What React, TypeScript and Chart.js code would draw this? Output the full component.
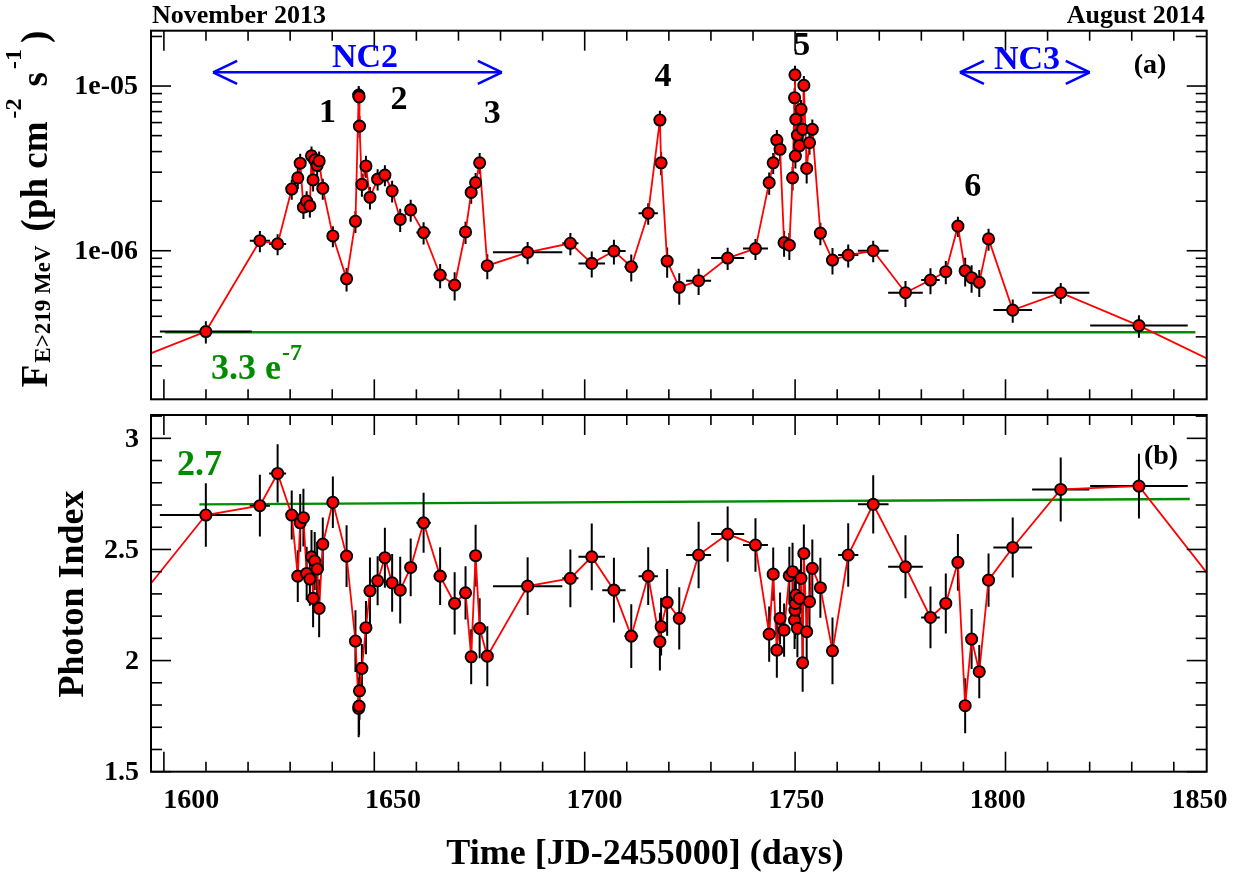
import React, { useEffect, useRef } from "react";
import { Chart, registerables } from "chart.js";
Chart.register(...registerables);

// ---------------- DATA ----------------
const days = [
  1603.6, 1617.0, 1621.4, 1624.9, 1626.4, 1627.0, 1627.8, 1628.6, 1629.4, 1629.8,
  1630.2, 1630.6, 1631.2, 1631.7, 1632.6, 1635.1, 1638.5, 1640.7, 1641.5, 1641.6,
  1641.7, 1642.3, 1643.3, 1644.3, 1646.2, 1648.0, 1649.8, 1651.8, 1654.4, 1657.6,
  1661.7, 1665.3, 1668.0, 1669.4, 1670.5, 1671.5, 1673.4, 1683.4, 1694.0, 1699.3,
  1704.8, 1709.1, 1713.3, 1716.2, 1716.5, 1718.0, 1721.0, 1725.8, 1733.0, 1739.9,
  1743.3, 1744.3, 1745.2, 1746.0, 1747.0, 1748.3, 1749.1, 1749.6, 1749.7, 1749.8,
  1749.9, 1750.3, 1750.8, 1751.2, 1751.6, 1751.9, 1752.6, 1753.3, 1754.0, 1756.0,
  1759.0, 1762.9, 1769.1, 1777.1, 1783.3, 1787.1, 1790.1, 1791.9, 1793.5, 1795.4,
  1797.7, 1803.7, 1815.6, 1835.0,
];
const dayErr = [
  11.4, 2.5, 2.1, 0.8, 0.5, 0.5, 0.5, 0.5, 0.5, 0.5,
  0.5, 0.5, 0.5, 0.5, 0.5, 1.4, 0.8, 0.5, 0.3, 0.3,
  0.3, 0.3, 0.5, 0.5, 0.8, 0.8, 0.8, 0.8, 1.5, 1.8,
  1.6, 1.5, 0.5, 0.5, 0.5, 0.5, 1.0, 8.6, 2.0, 3.3,
  2.9, 1.7, 2.4, 0.5, 0.5, 0.8, 1.0, 3.1, 4.1, 3.1,
  0.5, 0.5, 0.5, 0.5, 0.5, 0.3, 0.3, 0.2, 0.2, 0.2,
  0.2, 0.2, 0.2, 0.2, 0.2, 0.2, 0.3, 0.3, 0.3, 0.5,
  0.8, 2.5, 3.8, 4.3, 2.3, 1.5, 0.8, 0.8, 0.8, 0.8,
  0.8, 4.8, 7.1, 12.1,
];
const flux = [
  3.23e-7, 1.15e-6, 1.10e-6, 2.37e-6, 2.77e-6, 3.40e-6, 1.84e-6, 2.00e-6, 1.87e-6, 3.77e-6,
  2.69e-6, 3.56e-6, 3.30e-6, 3.51e-6, 2.39e-6, 1.23e-6, 6.76e-7, 1.51e-6, 8.81e-6, 8.60e-6,
  5.71e-6, 2.53e-6, 3.27e-6, 2.11e-6, 2.72e-6, 2.88e-6, 2.31e-6, 1.55e-6, 1.77e-6, 1.29e-6,
  7.12e-7, 6.19e-7, 1.30e-6, 2.26e-6, 2.59e-6, 3.42e-6, 8.11e-7, 9.78e-7, 1.11e-6, 8.38e-7,
  9.96e-7, 8.00e-7, 1.69e-6, 6.22e-6, 3.42e-6, 8.66e-7, 6.00e-7, 6.58e-7, 9.03e-7, 1.03e-6,
  2.59e-6, 3.42e-6, 4.70e-6, 4.13e-6, 1.12e-6, 1.08e-6, 2.77e-6, 8.49e-6, 1.17e-5, 3.76e-6,
  6.28e-6, 5.04e-6, 4.34e-6, 7.22e-6, 5.46e-6, 1.01e-5, 3.16e-6, 4.53e-6, 5.46e-6, 1.28e-6,
  8.78e-7, 9.41e-7, 1.00e-6, 5.56e-7, 6.64e-7, 7.46e-7, 1.41e-6, 7.56e-7, 6.86e-7, 6.43e-7,
  1.18e-6, 4.36e-7, 5.56e-7, 3.51e-7,
];
const fluxErr = [
  0.5e-7, 0.17e-6, 0.16e-6, 0.33e-6, 0.4e-6, 0.48e-6, 0.28e-6, 0.3e-6, 0.28e-6, 0.52e-6,
  0.4e-6, 0.5e-6, 0.47e-6, 0.5e-6, 0.35e-6, 0.18e-6, 1.1e-7, 0.23e-6, 1.2e-6, 1.2e-6,
  0.85e-6, 0.4e-6, 0.5e-6, 0.33e-6, 0.4e-6, 0.42e-6, 0.35e-6, 0.25e-6, 0.27e-6, 0.2e-6,
  1.2e-7, 1.2e-7, 0.2e-6, 0.33e-6, 0.38e-6, 0.5e-6, 1.4e-7, 1.5e-7, 0.17e-6, 1.5e-7,
  1.7e-7, 1.5e-7, 0.25e-6, 0.85e-6, 0.55e-6, 1.8e-7, 1.3e-7, 1.2e-7, 1.4e-7, 0.15e-6,
  0.4e-6, 0.5e-6, 0.7e-6, 0.62e-6, 0.2e-6, 0.2e-6, 0.45e-6, 1.2e-6, 1.6e-6, 0.6e-6,
  0.9e-6, 0.8e-6, 0.7e-6, 1.0e-6, 0.8e-6, 1.4e-6, 0.6e-6, 0.7e-6, 0.8e-6, 0.2e-6,
  1.6e-7, 1.5e-7, 0.15e-6, 1.0e-7, 1.2e-7, 1.2e-7, 0.2e-6, 1.5e-7, 1.3e-7, 1.2e-7,
  0.18e-6, 0.7e-7, 0.8e-7, 0.55e-7,
];
const photonIndex = [
  2.655, 2.697, 2.842, 2.655, 2.380, 2.620, 2.643, 2.392, 2.367, 2.467,
  2.280, 2.448, 2.412, 2.235, 2.524, 2.712, 2.470, 2.088, 1.785, 1.795,
  1.864, 1.965, 2.148, 2.314, 2.359, 2.463, 2.350, 2.317, 2.419, 2.620,
  2.380, 2.257, 2.305, 2.017, 2.472, 2.145, 2.020, 2.335, 2.370, 2.467,
  2.317, 2.110, 2.380, 2.085, 2.153, 2.262, 2.190, 2.475, 2.569, 2.520,
  2.119, 2.389, 2.047, 2.190, 2.137, 2.382, 2.400, 2.182, 2.227, 2.257,
  2.295, 2.145, 2.280, 2.370, 1.990, 2.482, 2.130, 2.265, 2.415, 2.328,
  2.044, 2.475, 2.703, 2.422, 2.194, 2.257, 2.442, 1.797, 2.097, 1.950,
  2.362, 2.509, 2.770, 2.785,
];
const indexErr = [
  0.143, 0.139, 0.131, 0.11, 0.116, 0.13, 0.13, 0.12, 0.12, 0.12,
  0.13, 0.13, 0.12, 0.13, 0.12, 0.116, 0.139, 0.139, 0.13, 0.13,
  0.13, 0.11, 0.12, 0.15, 0.11, 0.135, 0.13, 0.15, 0.13, 0.135,
  0.13, 0.14, 0.12, 0.124, 0.139, 0.135, 0.135, 0.13, 0.13, 0.15,
  0.146, 0.143, 0.13, 0.13, 0.13, 0.15, 0.14, 0.15, 0.124, 0.12,
  0.124, 0.12, 0.124, 0.116, 0.12, 0.13, 0.13, 0.13, 0.13, 0.13,
  0.13, 0.13, 0.13, 0.13, 0.13, 0.13, 0.13, 0.13, 0.13, 0.135,
  0.15, 0.143, 0.131, 0.142, 0.139, 0.135, 0.128, 0.124, 0.135, 0.12,
  0.12, 0.135, 0.144, 0.146,
];
// neighbouring bins outside the visible window (only the connecting line shows)
const edgeDays = [1575, 1865];
const edgeFlux = [1.71e-7, 1.55e-7];
const edgeIndex = [2.008, 2.09];
// constant / linear fits
const fitFluxDays = [1593.5, 1849];
const fitFlux = [3.2e-7, 3.2e-7];
const fitIndexDays = [1602, 1847.6];
const fitIndex = [2.703, 2.727];
// axis ticks
const xTickValues = [1600, 1650, 1700, 1750, 1800, 1850];
const fluxTickValues = [1e-5, 1e-6];
const fluxTickLabels = ["1e-05", "1e-06"];
const indexTickValues = [1.5, 2, 2.5, 3];
const indexTickLabels = ["1.5", "2", "2.5", "3"];
const flareLabels = ["1", "2", "3", "4", "5", "6"];

// ---------------- STYLE ----------------
const SERIF = '"Liberation Serif", "Times New Roman", Times, serif';
const GREEN = "#008c00";
const BLUE = "#0000ff";
const X_MIN = 1590;
const X_MAX = 1851.8;

function font(size: number) {
  return `bold ${size}px ${SERIF}`;
}

function text(ctx: CanvasRenderingContext2D, s: string, x: number, y: number, size: number,
  color = "#000", align: CanvasTextAlign = "left", base: CanvasTextBaseline = "alphabetic") {
  ctx.save();
  ctx.font = font(size);
  ctx.fillStyle = color;
  ctx.textAlign = align;
  ctx.textBaseline = base;
  ctx.fillText(s, x, y);
  ctx.restore();
}

function seg(ctx: CanvasRenderingContext2D, x1: number, y1: number, x2: number, y2: number) {
  ctx.beginPath();
  ctx.moveTo(x1, y1);
  ctx.lineTo(x2, y2);
  ctx.stroke();
}

function frameAndTicks(ctx: CanvasRenderingContext2D, a: any, yTicks: { px: number; major: boolean }[]) {
  ctx.save();
  ctx.strokeStyle = "#000";
  ctx.lineWidth = 1.6;
  const w = a.right - a.left;
  for (let d = 1600; d <= 1840; d += 10) {
    const px = a.left + ((12.9 + (d - 1600) * 4.208) / 1055.7) * w;
    const L = d % 50 === 0 ? 20 : 10;
    seg(ctx, px, a.bottom, px, a.bottom - L);
    seg(ctx, px, a.top, px, a.top + L);
  }
  for (const t of yTicks) {
    const L = t.major ? 20 : 11;
    seg(ctx, a.left, t.px, a.left + L, t.px);
    seg(ctx, a.right, t.px, a.right - L, t.px);
  }
  ctx.lineWidth = 2;
  ctx.strokeRect(a.left, a.top, w, a.bottom - a.top);
  ctx.restore();
}

type Seg = { t: string; size: number; dy: number; gap?: number };
function richVertical(ctx: CanvasRenderingContext2D, segs: Seg[], x: number, yc: number) {
  ctx.save();
  ctx.translate(x, yc);
  ctx.rotate(-Math.PI / 2);
  ctx.fillStyle = "#000";
  ctx.textBaseline = "alphabetic";
  ctx.textAlign = "left";
  let total = 0;
  const ws = segs.map((s) => {
    ctx.font = font(s.size);
    const w = ctx.measureText(s.t).width;
    total += w + (s.gap || 0);
    return w;
  });
  let cx = -total / 2;
  segs.forEach((s, i) => {
    cx += s.gap || 0;
    ctx.font = font(s.size);
    ctx.fillText(s.t, cx, s.dy);
    cx += ws[i];
  });
  ctx.restore();
}

function arrow(ctx: CanvasRenderingContext2D, x1: number, x2: number, y: number) {
  ctx.save();
  ctx.strokeStyle = BLUE;
  ctx.lineWidth = 2.6;
  seg(ctx, x1, y, x2, y);
  seg(ctx, x1, y, x1 + 24, y - 11.5);
  seg(ctx, x1, y, x1 + 24, y + 11.5);
  seg(ctx, x2, y, x2 - 24, y - 11.5);
  seg(ctx, x2, y, x2 - 24, y + 11.5);
  ctx.restore();
}

function errorBarPlugin(values: number[], errs: number[]) {
  return {
    id: "errbars",
    afterDatasetDraw(chart: any, args: any) {
      if (args.index !== 0) return;
      const ctx = chart.ctx as CanvasRenderingContext2D;
      const a = chart.chartArea;
      const xs = chart.scales.x;
      const ys = chart.scales.y;
      ctx.save();
      ctx.beginPath();
      ctx.rect(a.left, a.top, a.right - a.left, a.bottom - a.top);
      ctx.clip();
      ctx.strokeStyle = "#000";
      ctx.lineWidth = 2;
      for (let i = 0; i < days.length; i++) {
        const px = xs.getPixelForValue(days[i]);
        const py = ys.getPixelForValue(values[i]);
        const x1 = xs.getPixelForValue(days[i] - dayErr[i]);
        const x2 = xs.getPixelForValue(days[i] + dayErr[i]);
        const y1 = ys.getPixelForValue(values[i] - errs[i]);
        const y2 = ys.getPixelForValue(values[i] + errs[i]);
        seg(ctx, x1, py, x2, py);
        seg(ctx, px, y1, px, y2);
      }
      ctx.restore();
    },
  };
}

const topDecor = {
  id: "topDecor",
  afterDraw(chart: any) {
    const ctx = chart.ctx as CanvasRenderingContext2D;
    const a = chart.chartArea;
    const xs = chart.scales.x;
    const ys = chart.scales.y;
    const ticks: { px: number; major: boolean }[] = [];
    for (let e = -7; e <= -5; e++) {
      for (let m = 1; m <= 9; m++) {
        const v = m * Math.pow(10, e);
        if (v >= ys.min && v <= ys.max) ticks.push({ px: ys.getPixelForValue(v), major: m === 1 });
      }
    }
    frameAndTicks(ctx, a, ticks);
    fluxTickValues.forEach((v, i) => {
      text(ctx, fluxTickLabels[i], a.left - 13, ys.getPixelForValue(v) + 1, 28, "#000", "right", "middle");
    });
    // y title
    richVertical(ctx, [
      { t: "F", size: 37, dy: 0 },
      { t: "E>219 MeV", size: 23, dy: 3, gap: 2 },
      { t: "(ph cm", size: 37, dy: 0, gap: 14 },
      { t: "-2", size: 24, dy: -26, gap: 3 },
      { t: "s", size: 37, dy: 0, gap: 12 },
      { t: "-1", size: 24, dy: -26, gap: 3 },
      { t: ")", size: 37, dy: 0, gap: 6 },
    ], 47, 209);
    // dates
    text(ctx, "November 2013", a.left + 1, 23, 26);
    text(ctx, "August 2014", a.right - 2, 23, 26, "#000", "right");
    // NC arrows
    const yArr = 72.3;
    arrow(ctx, xs.getPixelForValue(1605.4), xs.getPixelForValue(1677.0), yArr);
    arrow(ctx, xs.getPixelForValue(1790.6), xs.getPixelForValue(1822.8), yArr);
    text(ctx, "NC2", 365, 67, 34, BLUE, "center");
    text(ctx, "NC3", 1027, 69, 34, BLUE, "center");
    // flare numbers
    const flarePos = [[1633.8, 6.86e-6], [1651.5, 8.22e-6], [1674.6, 6.76e-6], [1717.0, 1.135e-5], [1751.4, 1.75e-5], [1793.8, 2.44e-6]];
    flareLabels.forEach((s, i) => {
      text(ctx, s, xs.getPixelForValue(flarePos[i][0]), ys.getPixelForValue(flarePos[i][1]), 34, "#000", "center", "middle");
    });
    text(ctx, "(a)", 1150, 66, 28, "#000", "center", "middle");
    // fit label
    ctx.save();
    ctx.font = font(36);
    const w = ctx.measureText("3.3 e").width;
    ctx.restore();
    text(ctx, "3.3 e", 211, 379, 36, GREEN);
    text(ctx, "-7", 211 + w + 1, 360, 24, GREEN);
  },
};

const botDecor = {
  id: "botDecor",
  afterDraw(chart: any) {
    const ctx = chart.ctx as CanvasRenderingContext2D;
    const a = chart.chartArea;
    const xs = chart.scales.x;
    const ys = chart.scales.y;
    const ticks: { px: number; major: boolean }[] = [];
    for (let k = 15; k <= 31; k++) {
      const v = k / 10;
      if (v <= ys.max) ticks.push({ px: ys.getPixelForValue(v), major: k % 5 === 0 });
    }
    frameAndTicks(ctx, a, ticks);
    indexTickValues.forEach((v, i) => {
      text(ctx, indexTickLabels[i], a.left - 12, ys.getPixelForValue(v) + 1, 28, "#000", "right", "middle");
    });
    xTickValues.forEach((v) => {
      text(ctx, String(v), xs.getPixelForValue(v), 401, 28, "#000", "center");
    });
    text(ctx, "Time [JD-2455000] (days)", 645, 457, 36, "#000", "center");
    ctx.save();
    ctx.translate(83, 187);
    ctx.rotate(-Math.PI / 2);
    ctx.font = font(36);
    ctx.fillStyle = "#000";
    ctx.textAlign = "center";
    ctx.fillText("Photon Index", 0, 0);
    ctx.restore();
    text(ctx, "(b)", 1161, 50, 28, "#000", "center", "middle");
    text(ctx, "2.7", 177, 68, 36, GREEN);
  },
};

function makeConfig(values: number[], errs: number[], edges: number[], fitX: number[], fitY: number[],
  yScale: any, padding: any, decor: any): any {
  const pts = [
    { x: edgeDays[0], y: edges[0] },
    ...days.map((d, i) => ({ x: d, y: values[i] })),
    { x: edgeDays[1], y: edges[1] },
  ];
  const last = pts.length - 1;
  return {
    type: "line",
    data: {
      datasets: [
        {
          data: fitX.map((x, i) => ({ x, y: fitY[i] })),
          borderColor: GREEN,
          borderWidth: 2.4,
          pointRadius: 0,
          order: 2,
        },
        {
          data: pts,
          borderColor: "#ff0000",
          borderWidth: 1.8,
          pointRadius: (c: any) => (c.dataIndex === 0 || c.dataIndex === last ? 0 : 5.6),
          pointBackgroundColor: "#ff0000",
          pointBorderColor: "#000",
          pointBorderWidth: 1.9,
          order: 1,
        },
      ],
    },
    options: {
      animation: false,
      responsive: false,
      events: [],
      layout: { padding },
      scales: {
        x: { type: "linear", min: X_MIN, max: X_MAX, display: false },
        y: { ...yScale, display: false },
      },
      plugins: { legend: { display: false }, tooltip: { enabled: false } },
    },
    plugins: [errorBarPlugin(values, errs), decor],
  };
}

export default function App() {
  const topRef = useRef<HTMLCanvasElement>(null);
  const botRef = useRef<HTMLCanvasElement>(null);
  useEffect(() => {
    const c1 = new Chart(
      topRef.current!,
      makeConfig(flux, fluxErr, edgeFlux, fitFluxDays, fitFlux,
        { type: "logarithmic", min: 1.253e-7, max: 2.168e-5 },
        { left: 151, right: 51.3, top: 30.7, bottom: 7.7 }, topDecor)
    );
    const c2 = new Chart(
      botRef.current!,
      makeConfig(photonIndex, indexErr, edgeIndex, fitIndexDays, fitIndex,
        { type: "linear", min: 1.5, max: 3.105 },
        { left: 151, right: 51.3, top: 8, bottom: 105.3 }, botDecor)
    );
    return () => {
      c1.destroy();
      c2.destroy();
    };
  }, []);
  return (
    <div style={{ position: "fixed", left: 0, top: 0, width: 1258, height: 877, background: "#fff" }}>
      <canvas ref={topRef} width={1258} height={407} style={{ position: "absolute", left: 0, top: 0 }} />
      <canvas ref={botRef} width={1258} height={470} style={{ position: "absolute", left: 0, top: 407 }} />
    </div>
  );
}
